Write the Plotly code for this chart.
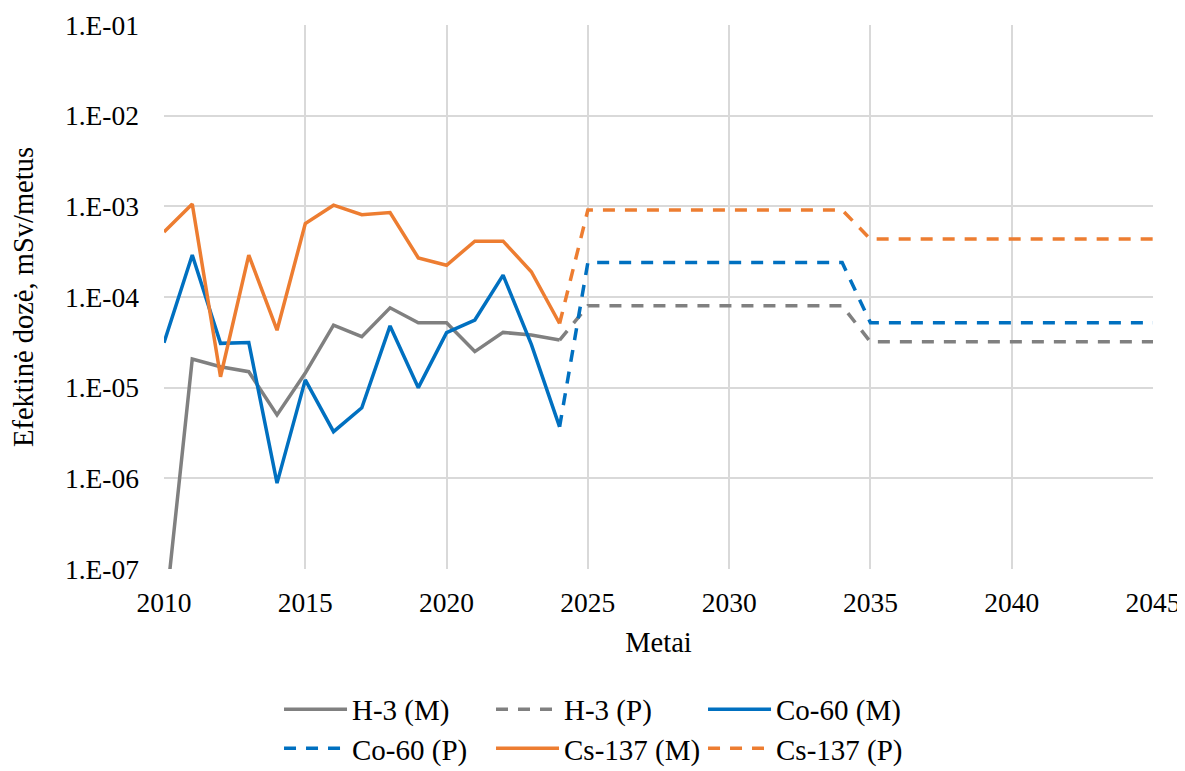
import plotly.graph_objects as go

# Measured (M) years and values
years_m = [2010, 2011, 2012, 2013, 2014, 2015, 2016, 2017, 2018, 2019, 2020, 2021, 2022, 2023, 2024]
h3_m = [2.4e-8, 2.07e-5, 1.7e-5, 1.5e-5, 5.0e-6, 1.45e-5, 4.9e-5, 3.65e-5, 7.6e-5, 5.2e-5, 5.2e-5, 2.5e-5, 4.07e-5, 3.8e-5, 3.35e-5]
co60_m = [3.13e-5, 2.9e-4, 3.08e-5, 3.15e-5, 8.85e-7, 1.22e-5, 3.27e-6, 6.0e-6, 4.8e-5, 1.0e-5, 4.04e-5, 5.57e-5, 1.74e-4, 3.0e-5, 3.7e-6]
cs137_m = [5.2e-4, 1.06e-3, 1.32e-5, 2.9e-4, 4.3e-5, 6.45e-4, 1.03e-3, 8.1e-4, 8.55e-4, 2.7e-4, 2.24e-4, 4.13e-4, 4.13e-4, 1.9e-4, 5.1e-5]

# Projected (P) years and values (breakpoints)
years_p = [2024, 2025, 2034, 2035, 2045]
h3_p = [3.35e-5, 8.0e-5, 8.0e-5, 3.2e-5, 3.2e-5]
co60_p = [3.7e-6, 2.4e-4, 2.4e-4, 5.2e-5, 5.2e-5]
cs137_p = [5.1e-5, 9.1e-4, 9.1e-4, 4.35e-4, 4.35e-4]

# Axis ticks
y_tickvals = [1e-7, 1e-6, 1e-5, 1e-4, 1e-3, 1e-2, 1e-1]
y_ticktext = ["1.E-07", "1.E-06", "1.E-05", "1.E-04", "1.E-03", "1.E-02", "1.E-01"]
x_tickvals = [2010, 2015, 2020, 2025, 2030, 2035, 2040, 2045]

GREY = "#808080"
BLUE = "#0070C0"
ORANGE = "#ED7D31"
DASH = "12px,10px"
FONT = "Liberation Serif"

fig = go.Figure()
series = [
    ("H-3 (M)", years_m, h3_m, GREY, "solid", "legend"),
    ("H-3 (P)", years_p, h3_p, GREY, DASH, "legend"),
    ("Co-60 (M)", years_m, co60_m, BLUE, "solid", "legend"),
    ("Co-60 (P)", years_p, co60_p, BLUE, DASH, "legend2"),
    ("Cs-137 (M)", years_m, cs137_m, ORANGE, "solid", "legend2"),
    ("Cs-137 (P)", years_p, cs137_p, ORANGE, DASH, "legend2"),
]
for name, xs, ys, col, dash, lg in series:
    fig.add_trace(go.Scatter(x=xs, y=ys, mode="lines", name=name, legend=lg,
                             line=dict(color=col, width=3.5, dash=dash)))

legend_common = dict(orientation="h", xanchor="left", yanchor="top",
                     itemwidth=63, entrywidth=134, entrywidthmode="pixels",
                     font=dict(family=FONT, size=29, color="black"),
                     bgcolor="rgba(0,0,0,0)", tracegroupgap=0)

# page body has an 8px default margin: the figure is sized/offset to compensate
fig.update_layout(
    width=1177, height=763,
    margin=dict(l=156, r=32, t=17, b=202, autoexpand=False),
    paper_bgcolor="white", plot_bgcolor="white",
    font=dict(family=FONT, size=27.5, color="black"),
    showlegend=True,
    legend=dict(x=0.1163, y=-0.211, **legend_common),
    legend2=dict(x=0.1163, y=-0.283, **legend_common),
)
fig.update_xaxes(range=[2010, 2045], tickvals=x_tickvals, showgrid=True,
                 gridcolor="#d9d9d9", gridwidth=1.5, zeroline=False, showline=False,
                 ticks="", ticklabelstandoff=14, automargin=False,
                 title=dict(text="Metai", standoff=15, font=dict(size=28.5)))
fig.update_yaxes(type="log", range=[-7, -1], tickvals=y_tickvals, ticktext=y_ticktext,
                 showgrid=True, gridcolor="#d9d9d9", gridwidth=1.5, zeroline=False,
                 showline=False, ticks="", ticklabelstandoff=24, automargin=False,
                 title=dict(text="Efektinė dozė, mSv/metus", standoff=24, font=dict(size=28.5)))

fig.write_html("out.html")
